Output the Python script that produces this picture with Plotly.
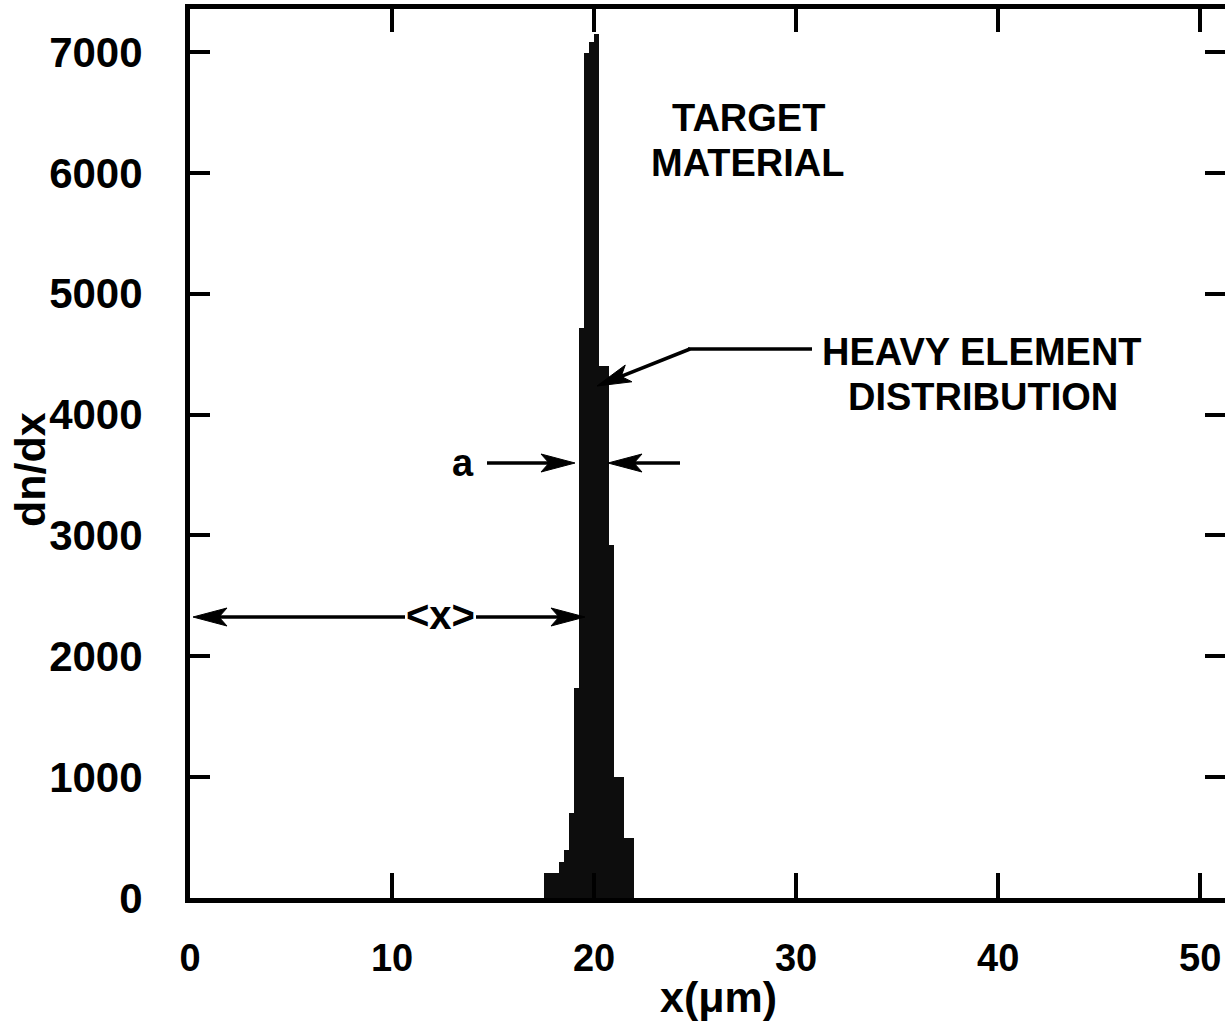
import plotly.graph_objects as go
import math

# ---------------- data ----------------
bin_left = [17.50, 17.75, 18.00, 18.25, 18.50, 18.75, 19.00, 19.25, 19.50,
            19.75, 20.00, 20.25, 20.50, 20.75, 21.00, 21.25, 21.50, 21.75]
bin_width = 0.25
dndx = [205, 205, 205, 300, 400, 700, 1740, 4720, 6990,
        7080, 7150, 4400, 4400, 2920, 1000, 1000, 500, 500]

x_ticks = [0, 10, 20, 30, 40, 50]
y_ticks = [0, 1000, 2000, 3000, 4000, 5000, 6000, 7000]

# ---------------- layout constants ----------------
W, H = 1225, 1026
ML, MR, MT = 190, 0, 9
MB = H - 898
PX_PER_X = 20.204            # screen pixels per micron in the reference
X_MAX = (W - ML - MR) / PX_PER_X
Y_MAX = 7356
FONT = "Liberation Sans, Arial, Helvetica, sans-serif"


def px2x(px):
    """screen pixel x -> data x"""
    return (px - ML) / (W - ML - MR) * X_MAX


def px2y(py):
    """screen pixel y -> data y"""
    return (H - MB - py) / (H - MT - MB) * Y_MAX


def paper_x(px):
    return (px - ML) / (W - ML - MR)


def paper_y(py):
    return (H - MB - py) / (H - MT - MB)


centers = [b + bin_width / 2 for b in bin_left]

fig = go.Figure()
fig.add_trace(go.Bar(
    x=centers, y=dndx, width=[bin_width] * len(dndx),
    marker=dict(color="#0d0d0d", line=dict(width=0)),
    showlegend=False, hoverinfo="skip",
))
# helper invisible trace for the mirrored (top / right) axes
fig.add_trace(go.Scatter(x=[None], y=[None], xaxis="x2", yaxis="y2",
                         showlegend=False, hoverinfo="skip"))

shapes = []
annotations = []


def arrow(x0, y0, x1, y1, L=34, hw=9, notch=8, lw=3.5):
    """Line from (x0,y0) to tip (x1,y1), screen pixel coords, with a barbed head."""
    dx, dy = x1 - x0, y1 - y0
    n = math.hypot(dx, dy)
    ux, uy = dx / n, dy / n
    px_, py_ = -uy, ux
    bx, by = x1 - L * ux, y1 - L * uy
    nx, ny = x1 - (L - notch) * ux, y1 - (L - notch) * uy
    shapes.append(dict(type="line", xref="x", yref="y",
                       x0=px2x(x0), y0=px2y(y0), x1=px2x(nx), y1=px2y(ny),
                       line=dict(color="black", width=lw)))
    pts = [(x1, y1), (bx + hw * px_, by + hw * py_), (nx, ny),
           (bx - hw * px_, by - hw * py_)]
    path = "M " + " L ".join(f"{px2x(a):.4f},{px2y(b):.2f}" for a, b in pts) + " Z"
    shapes.append(dict(type="path", xref="x", yref="y", path=path,
                       fillcolor="black", line=dict(color="black", width=1)))


# "a" width arrows
arrow(487, 463, 575, 463)
arrow(680, 463, 608, 463)
# <x> arrows
arrow(405, 617, 193, 617)
arrow(476, 617, 585, 617)
# heavy element pointer
shapes.append(dict(type="line", xref="x", yref="y",
                   x0=px2x(812), y0=px2y(349), x1=px2x(688), y1=px2y(349),
                   line=dict(color="black", width=3.5)))
arrow(690, 349, 597, 386)


def label(text, px, py, size=38):
    annotations.append(dict(text=text, x=px2x(px), y=px2y(py), xref="x", yref="y",
                            showarrow=False, xanchor="center", yanchor="middle",
                            font=dict(family=FONT, size=size, color="black", weight="bold")))


label("TARGET", 748, 118)
label("MATERIAL", 748, 163)
label("HEAVY ELEMENT", 982, 352)
label("DISTRIBUTION", 983, 397)
label("a", 463, 463)
label("&lt;x&gt;", 440, 615, size=40)

# axis titles
annotations.append(dict(text="dn/dx", x=paper_x(30), y=paper_y(470),
                        xref="paper", yref="paper", showarrow=False, textangle=-90,
                        xanchor="center", yanchor="middle",
                        font=dict(family=FONT, size=43, color="black", weight="bold")))
annotations.append(dict(text="x(μm)", x=px2x(718), y=paper_y(997),
                        xref="x", yref="paper", showarrow=False,
                        xanchor="center", yanchor="middle",
                        font=dict(family=FONT, size=43, color="black", weight="bold")))

axis_common = dict(showgrid=False, zeroline=False, linecolor="black",
                   tickcolor="black", ticks="inside")

fig.update_layout(
    width=W, height=H,
    margin=dict(l=ML, r=MR, t=MT, b=MB, pad=0),
    paper_bgcolor="white", plot_bgcolor="white",
    bargap=0,
    xaxis=dict(range=[0, X_MAX], tickvals=x_ticks, ticklen=25, tickwidth=3.5,
               showline=True, linewidth=5, ticklabelstandoff=22,
               ticklabeloverflow="allow",
               tickfont=dict(family=FONT, size=38, color="black", weight="bold"),
               **axis_common),
    yaxis=dict(range=[0, Y_MAX], tickvals=y_ticks, ticklen=20, tickwidth=3.5,
               showline=True, linewidth=5, ticklabelstandoff=34,
               tickfont=dict(family=FONT, size=42, color="black", weight="bold"),
               **axis_common),
    xaxis2=dict(overlaying="x", side="top", matches="x", range=[0, X_MAX],
                tickvals=x_ticks, ticklen=23, tickwidth=3.5, showline=True,
                linewidth=5, showticklabels=False, **axis_common),
    yaxis2=dict(overlaying="y", side="right", matches="y", range=[0, Y_MAX],
                tickvals=y_ticks, ticklen=20, tickwidth=3.5, showline=False,
                showticklabels=False, **axis_common),
    shapes=shapes,
    annotations=annotations,
)

fig.write_html(
    "out.html",
    config={"displayModeBar": False},
    post_script="document.body.style.margin='0';document.body.style.overflow='hidden';",
)
